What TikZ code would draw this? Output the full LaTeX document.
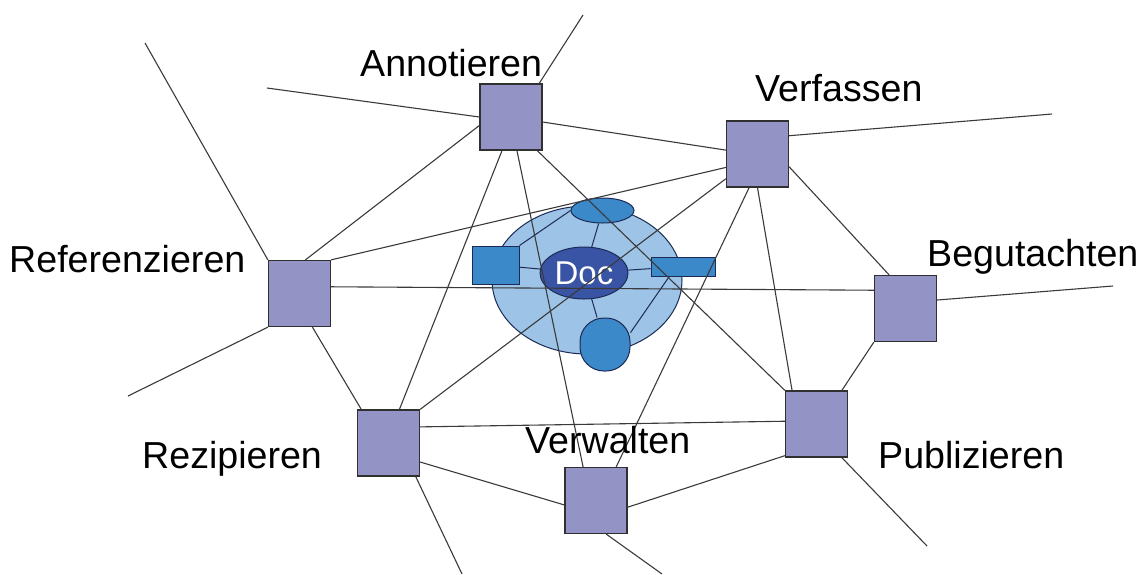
\documentclass[tikz,border=0pt]{standalone}
\usepackage{fontspec}
\setmainfont{Liberation Sans}
\usetikzlibrary{shapes.geometric}
\definecolor{boxfill}{HTML}{9393C6}
\definecolor{boxline}{HTML}{303030}
\definecolor{globefill}{HTML}{9DC3E6}
\definecolor{satfill}{HTML}{3C89C9}
\definecolor{docfill}{HTML}{3A54A5}
\definecolor{navy}{HTML}{1C2B55}
\definecolor{wire}{HTML}{3A3A3A}
\tikzset{
  actbox/.style={draw=boxline, fill=boxfill, line width=1.3pt, rectangle, inner sep=0pt, minimum width=62pt, minimum height=66pt},
  lbl/.style={anchor=base west, inner sep=0pt, font=\fontsize{37.6}{42}\selectfont, text=black},
  wireline/.style={draw=wire, line width=1.1pt},
  sat/.style={draw=navy, fill=satfill, line width=1pt, inner sep=0pt},
  spoke/.style={draw=navy, line width=1pt}
}
\begin{document}
\begin{tikzpicture}[x=1pt,y=-1pt]
\useasboundingbox (0,0) rectangle (1145,574);
% globe
\node[ellipse, draw=navy, fill=globefill, line width=1pt, minimum width=190pt, minimum height=148pt, inner sep=0pt] (globe) at (587,280) {};
\node[sat, ellipse, minimum width=63pt, minimum height=25pt] (te) at (602.5,210.5) {};
\node[sat, rectangle, minimum width=47pt, minimum height=38pt] (ls) at (495.5,265) {};
\node[sat, rectangle, minimum width=64pt, minimum height=19pt] (rr) at (683,266.5) {};
\node[sat, rectangle, rounded corners=24pt, minimum width=50pt, minimum height=53pt] (bc) at (605,344.5) {};
\node[ellipse, draw=navy, fill=docfill, line width=1pt, minimum width=88pt, minimum height=52pt, inner sep=0pt, text=white, font=\fontsize{33}{36}\selectfont] (doc) at (584,273) {Doc};
\draw[spoke] (doc) -- (te);
\draw[spoke] (doc) -- (ls);
\draw[spoke] (doc) -- (rr);
\draw[spoke] (doc) -- (bc);
\draw[spoke] (ls.north east) -- (te.west);
\draw[spoke] (rr.-144) -- (bc.25);
% activity boxes
\node[actbox] (A) at (511,117) {};
\node[actbox] (V) at (757.5,154) {};
\node[actbox] (R) at (299.5,293.5) {};
\node[actbox] (B) at (905.5,308.5) {};
\node[actbox] (Z) at (388.5,443) {};
\node[actbox] (W) at (596,500.5) {};
\node[actbox] (P) at (816.5,424) {};
% free ends
\coordinate (aUp) at (583,15);
\coordinate (aLeft) at (267,88);
\coordinate (rUp) at (145,43);
\coordinate (rDown) at (128,396);
\coordinate (zDown) at (462,574);
\coordinate (vRight) at (1052,114);
\coordinate (bRight) at (1113,286);
\coordinate (pDown) at (927,546);
\coordinate (wDown) at (662,574);
% connectors
\begin{scope}[wireline]
\draw (A.50) -- (aUp);
\draw (A.west) -- (aLeft);
\draw (A.-9) -- (V.173);
\draw (A.-165) -- (R.80);
\draw (A.-105) -- (Z.72);
\draw (A.-80) -- (W.111);
\draw (A.-52) -- (P.north west);
\draw (R.north west) -- (rUp);
\draw (R.north east) -- (V.-157);
\draw (R.12) -- (B.150);
\draw (R.south west) -- (rDown);
\draw (R.-69) -- (Z.129);
\draw (Z.north east) -- (V.-142);
\draw (Z.27) -- (P.175);
\draw (Z.-31) -- (W.-172);
\draw (Z.-51) -- (zDown);
\draw (W.59) -- (V.-104);
\draw (V.-90) -- (P.126);
\draw (V.-22) -- (B.116);
\draw (V.30) -- (vRight);
\draw (B.15) -- (bRight);
\draw (B.south west) -- (P.53);
\draw (P.-53) -- (pDown);
\draw (P.-135) -- (W.-12);
\draw (W.-73) -- (wDown);
\end{scope}
% labels
\node[lbl] (lA) at (360,76) {Annotieren};
\node[lbl] (lV) at (755,101) {Verfassen};
\node[lbl] (lR) at (9,272) {Referenzieren};
\node[lbl] (lB) at (927,266) {Begutachten};
\node[lbl] (lZ) at (142,468) {Rezipieren};
\node[lbl] (lW) at (525,453) {Verwalten};
\node[lbl] (lP) at (878,468) {Publizieren};
\end{tikzpicture}
\end{document}
